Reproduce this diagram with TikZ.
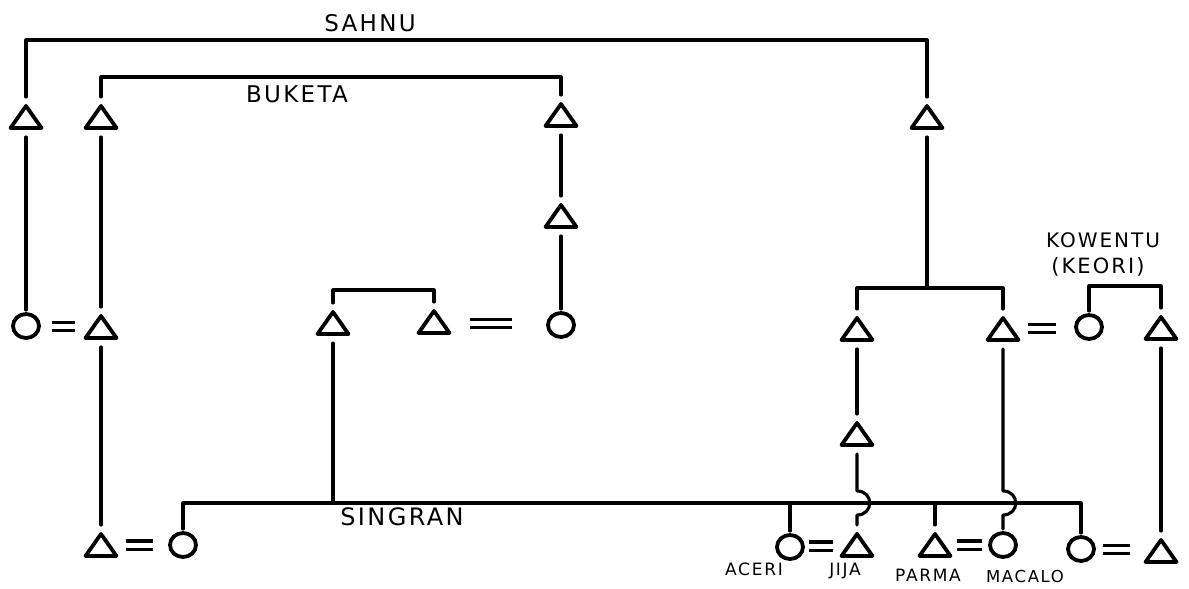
\documentclass[tikz,border=0pt]{standalone}
\usepackage{fontspec}
\usetikzlibrary{shapes.geometric}
\newfontfamily\handfont[LetterSpace=10]{DejaVu Sans}
% marriage sign: two short heavy bars
\newcommand\eqbars[1]{\vbox{\hrule width #1 height 3.1pt\vskip 5pt\hrule width #1 height 3.1pt}}
\begin{document}
\begin{tikzpicture}[x=1pt,y=-1pt,
  link/.style={line width=3.1pt, line cap=round, line join=round},
  symline/.style={line width=3.8pt, line join=round, line cap=round},
  tri/.style={rectangle, inner sep=0pt, minimum width=31pt, minimum height=22pt, outer sep=9pt,
    append after command={\pgfextra{\draw[symline]
      ([shift={(-15.5pt,-11pt)}]\tikzlastnode.center) --
      ([shift={(0pt,11pt)}]\tikzlastnode.center) --
      ([shift={(15.5pt,-11pt)}]\tikzlastnode.center) -- cycle;}}},
  circ/.style={draw, ellipse, symline, minimum width=26pt, minimum height=24pt,
    inner sep=0pt, outer sep=4pt},
  marriage/.style={inner sep=0pt},
  lbl/.style={font=\handfont\fontsize{#1}{#1}\selectfont, inner sep=0pt},
]
\useasboundingbox (0,0) rectangle (1189,589);
\fill[white] (0,0) rectangle (1189,589);

% levels of the sibling bars
\coordinate (sahnuY) at (0,40);
\coordinate (buketaY) at (0,77);
\coordinate (pairY) at (0,290);
\coordinate (sibY) at (0,288);
\coordinate (kowY) at (0,286);
\coordinate (singY) at (0,503);
\coordinate (hopA) at (0,491);
\coordinate (hopB) at (0,515);

% first generation
\node[tri] (sL) at (26,117) {};
\node[tri] (b1) at (101,117) {};
\node[tri] (b2) at (561,115) {};
\node[tri] (sR) at (927,117) {};
\node[tri] (m1) at (561,216) {};

% second generation
\node[circ] (w1) at (26,326) {};
\node[tri] (h1) at (101,327) {};
\node[tri] (t1) at (333,323) {};
\node[tri] (t2) at (434,322) {};
\node[circ] (c2) at (561,325) {};
\node[tri] (r1) at (857,329) {};
\node[tri] (r2) at (1003,329) {};
\node[circ] (k1) at (1089,327) {};
\node[tri] (k2) at (1161,328) {};
\node[tri] (j0) at (857,434) {};

% third generation
\node[tri] (g1) at (101,545) {};
\node[circ] (g2) at (183,545) {};
\node[circ] (aceri) at (790,547) {};
\node[tri] (jija) at (857,545) {};
\node[tri] (parma) at (935,545) {};
\node[circ] (macalo) at (1003,545) {};
\node[circ] (k3) at (1081,549) {};
\node[tri] (k4) at (1161,551) {};

% descent lines
\draw[link] (sL.north) |- (sR.north |- sahnuY) -- (sR.north);
\draw[link] (b1.north) |- (b2.north |- buketaY) -- (b2.north);
\draw[link] (sL.south) -- (w1.north);
\draw[link] (b1.south) -- (h1.north);
\draw[link] (b2.south) -- (m1.north);
\draw[link] (m1.south) -- (c2.north);
\draw[link] (t1.north) |- (t2.north |- pairY) -- (t2.north);
\draw[link] (r1.north) |- (r2.north |- sibY) -- (r2.north);
\draw[link] (sR.south) -- (sR.south |- sibY);
\draw[link] (k1.north) |- (k2.north |- kowY) -- (k2.north);
\draw[link] (h1.south) -- (g1.north);
\draw[link] (g2.north) |- (k3.north |- singY) -- (k3.north);
\draw[link] (t1.south) -- (t1.south |- singY);
\draw[link] (aceri.north |- singY) -- (aceri.north);
\draw[link] (parma.north |- singY) -- (parma.north);
\draw[link] (r1.south) -- (j0.north);
\draw[link] (j0.south) -- (j0.south |- hopA)
  .. controls +(17,0) and +(17,0) .. (jija.north |- hopB) -- (jija.north);
\draw[link] (r2.south) -- (r2.south |- hopA)
  .. controls +(17,0) and +(17,0) .. (macalo.north |- hopB) -- (macalo.north);
\draw[link] (k2.south) -- (k4.north);

% marriages
\path (w1.center) -- node[marriage, pos=0.5] {\eqbars{24pt}} (h1.center);
\path (t2.center) -- node[marriage, pos=0.45] {\eqbars{42pt}} (c2.center);
\path (r2.center) -- node[marriage, pos=0.45] {\eqbars{28pt}} (k1.center);
\path (g1.center) -- node[marriage, pos=0.47] {\eqbars{27pt}} (g2.center);
\path (aceri.center) -- node[marriage, pos=0.46] {\eqbars{24pt}} (jija.center);
\path (parma.center) -- node[marriage, pos=0.5] {\eqbars{25pt}} (macalo.center);
\path (k3.center) -- node[marriage, pos=0.44] {\eqbars{27pt}} (k4.center);

% group and personal names
\node[lbl=23] (sahnu) at (370,23) {SAHNU};
\node[lbl=23] (buketa) at (297,94) {BUKETA};
\node[lbl=24] (singran) at (402,517) {SINGRAN};
\node[lbl=20] (kowentu) at (1103,240) {KOWENTU};
\node[lbl=21] (keori) at (1098,267) {(KEORI)};
\node[lbl=17] (laceri) at (754,569) {ACERI};
\node[lbl=17] (ljija) at (845,571) {JIJA};
\node[lbl=17] (lparma) at (928,575) {PARMA};
\node[lbl=16.5] (lmacalo) at (1025,576) {MACALO};
\end{tikzpicture}
\end{document}
